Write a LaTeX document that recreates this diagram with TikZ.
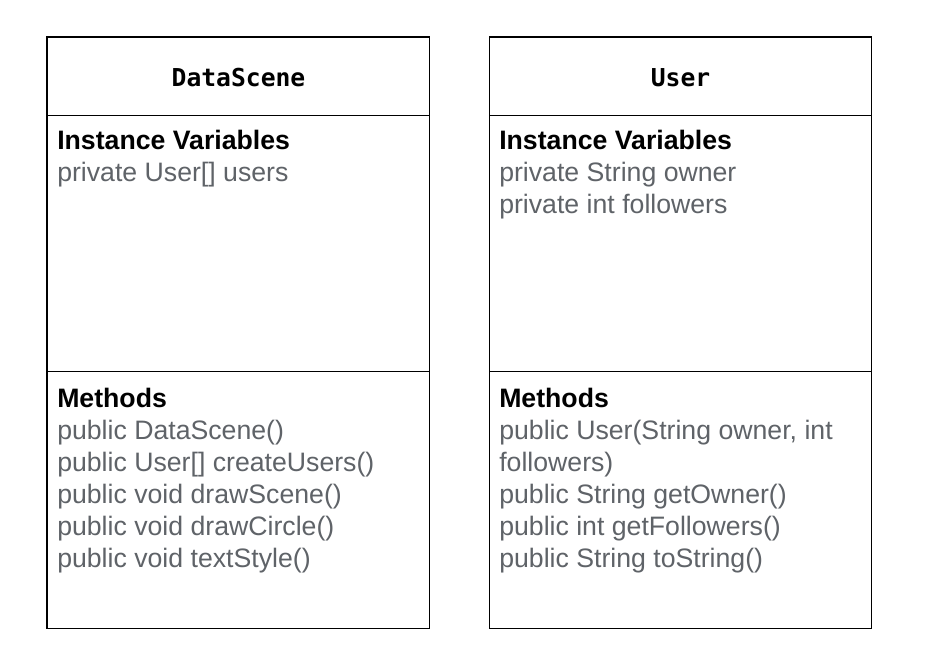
\documentclass[tikz,border=0pt]{standalone}
\usepackage{fontspec}
\setmainfont{Liberation Sans}
\newfontfamily\monob{DejaVu Sans Mono}
\definecolor{membergrey}{HTML}{5F6368}
\tikzset{
  umlbox/.style={draw=black, line width=1pt},
  titletext/.style={inner sep=0pt, anchor=base, font=\monob\bfseries\fontsize{18.5}{22}\selectfont},
  headtext/.style={inner sep=0pt, anchor=base west, font=\bfseries\fontsize{20}{24}\selectfont, text=black},
  membertext/.style={inner sep=0pt, anchor=base west, font=\fontsize{20}{24}\selectfont, text=membergrey}
}
\begin{document}
\begin{tikzpicture}[x=0.75pt,y=-0.75pt]
\useasboundingbox[fill=white] (0,0) rectangle (945,648);
% Left box
\draw[umlbox] (47,37) rectangle (429.5,628.5);
\draw[umlbox] (47,115.5) -- (429.5,115.5);
\draw[umlbox] (47,371.5) -- (429.5,371.5);
% Right box
\draw[umlbox] (489.5,37) rectangle (871.5,628.5);
\draw[umlbox] (489.5,115.5) -- (871.5,115.5);
\draw[umlbox] (489.5,371.5) -- (871.5,371.5);

% Left texts
\node[titletext] (dstitle) at (238.5,86.5) {DataScene};
\node[headtext] (dsiv) at (57,149.5) {Instance Variables};
\node[membertext] (dsv1) at (57,181.5) {private User[] users};
\node[headtext] (dsm) at (57,407.5) {Methods};
\node[membertext] (dsm1) at (57,439.5) {public DataScene()};
\node[membertext] (dsm2) at (57,471.5) {public User[] createUsers()};
\node[membertext] (dsm3) at (57,503.5) {public void drawScene()};
\node[membertext] (dsm4) at (57,535.5) {public void drawCircle()};
\node[membertext] (dsm5) at (57,567.5) {public void textStyle()};

% Right texts
\node[titletext] (utitle) at (680.5,86.5) {User};
\node[headtext] (uiv) at (499,149.5) {Instance Variables};
\node[membertext] (uv1) at (499,181.5) {private String owner};
\node[membertext] (uv2) at (499,213.5) {private int followers};
\node[headtext] (um) at (499,407.5) {Methods};
\node[membertext] (um1) at (499,439.5) {public User(String owner, int};
\node[membertext] (um1b) at (499,471.5) {followers)};
\node[membertext] (um2) at (499,503.5) {public String getOwner()};
\node[membertext] (um3) at (499,535.5) {public int getFollowers()};
\node[membertext] (um4) at (499,567.5) {public String toString()};
\end{tikzpicture}
\end{document}
